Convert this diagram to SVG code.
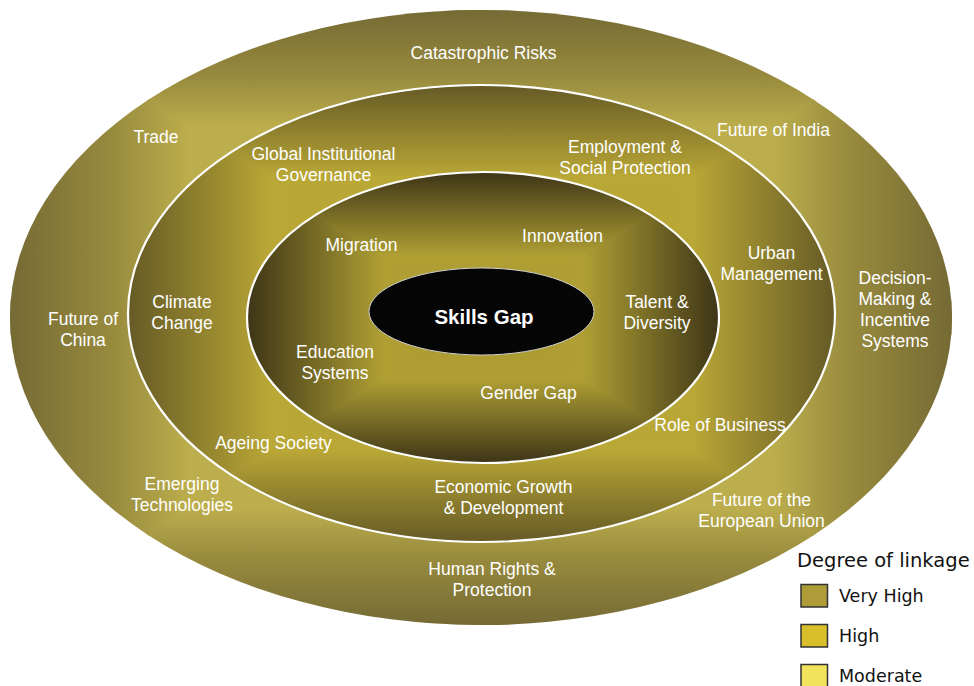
<svg xmlns="http://www.w3.org/2000/svg" width="974" height="686" viewBox="0 0 974 686">
  <defs>
    <style>
      .lbl { font-family: "Liberation Sans", Arial, sans-serif; font-size: 17.5px; fill: #ffffff; text-anchor: middle; }
      .core { font-family: "Liberation Sans", Arial, sans-serif; font-size: 20.5px; font-weight: bold; fill: #ffffff; text-anchor: middle; }
      .legend-title { font-family: "DejaVu Sans", Verdana, sans-serif; font-size: 19.5px; fill: #111111; }
      .legend-text { font-family: "DejaVu Sans", Verdana, sans-serif; font-size: 17.5px; fill: #111111; }
      .swatch { stroke: #333333; stroke-width: 1.5; }
      .ring-edge { fill: none; stroke: #ffffff; stroke-width: 2.2; }
      .tri { stroke-width: 1.6; stroke-linejoin: round; }
    </style>

    <!-- Rectangular (box) gradients: each ring is filled by four triangles,
         each carrying a linear ramp from the centre (offset 0) to its box edge (offset 1).
         Triangles are stroked with their own ramp so the diagonal joins stay seamless. -->
    <linearGradient id="outerStops">
      <stop offset="0" stop-color="#bcae4c"/>
      <stop offset="0.62" stop-color="#bcae4c"/>
      <stop offset="0.78" stop-color="#988b3e"/>
      <stop offset="1" stop-color="#756a34"/>
    </linearGradient>
    <linearGradient id="outerT" href="#outerStops" x1="0" y1="1" x2="0" y2="0"/>
    <linearGradient id="outerB" href="#outerStops" x1="0" y1="0" x2="0" y2="1"/>
    <linearGradient id="outerL" href="#outerStops" x1="1" y1="0" x2="0" y2="0"/>
    <linearGradient id="outerR" href="#outerStops" x1="0" y1="0" x2="1" y2="0"/>

    <linearGradient id="midStops">
      <stop offset="0" stop-color="#b5a434"/>
      <stop offset="0.6" stop-color="#b9a736"/>
      <stop offset="1" stop-color="#655a26"/>
    </linearGradient>
    <linearGradient id="midT" href="#midStops" x1="0" y1="1" x2="0" y2="0"/>
    <linearGradient id="midB" href="#midStops" x1="0" y1="0" x2="0" y2="1"/>
    <linearGradient id="midL" href="#midStops" x1="1" y1="0" x2="0" y2="0"/>
    <linearGradient id="midR" href="#midStops" x1="0" y1="0" x2="1" y2="0"/>

    <linearGradient id="innerStops">
      <stop offset="0" stop-color="#a8972f"/>
      <stop offset="0.42" stop-color="#b0a034"/>
      <stop offset="1" stop-color="#3d3517"/>
    </linearGradient>
    <linearGradient id="innerT" href="#innerStops" x1="0" y1="1" x2="0" y2="0"/>
    <linearGradient id="innerB" href="#innerStops" x1="0" y1="0" x2="0" y2="1"/>
    <linearGradient id="innerL" href="#innerStops" x1="1" y1="0" x2="0" y2="0"/>
    <linearGradient id="innerR" href="#innerStops" x1="0" y1="0" x2="1" y2="0"/>

    <clipPath id="clipOuter"><ellipse cx="481" cy="317.5" rx="471" ry="307.5"/></clipPath>
    <clipPath id="clipMid"><ellipse cx="481.5" cy="313.5" rx="353.5" ry="228.5"/></clipPath>
    <clipPath id="clipInner"><ellipse cx="483" cy="317.5" rx="236" ry="145.5"/></clipPath>
  </defs>

  <rect width="974" height="686" fill="#ffffff"/>

  <!-- Outer ring: moderate linkage -->
  <g id="ring-outer">
    <g clip-path="url(#clipOuter)">
      <polygon class="tri" points="481,317.5 10,10 952,10" fill="url(#outerT)" stroke="url(#outerT)"/>
      <polygon class="tri" points="481,317.5 10,625 952,625" fill="url(#outerB)" stroke="url(#outerB)"/>
      <polygon class="tri" points="481,317.5 10,10 10,625" fill="url(#outerL)" stroke="url(#outerL)"/>
      <polygon class="tri" points="481,317.5 952,10 952,625" fill="url(#outerR)" stroke="url(#outerR)"/>
    </g>
    <text class="lbl" x="483.5" y="59">Catastrophic Risks</text>
    <text class="lbl" x="156" y="143">Trade</text>
    <text class="lbl" x="773.5" y="136">Future of India</text>
    <text class="lbl" x="83" y="325">Future of<tspan x="83" dy="21">China</tspan></text>
    <text class="lbl" x="895" y="284">Decision-<tspan x="895" dy="21">Making &amp;</tspan><tspan x="895" dy="21">Incentive</tspan><tspan x="895" dy="21">Systems</tspan></text>
    <text class="lbl" x="182" y="490">Emerging<tspan x="182" dy="21">Technologies</tspan></text>
    <text class="lbl" x="761.5" y="506">Future of the<tspan x="761.5" dy="21">European Union</tspan></text>
    <text class="lbl" x="492" y="575">Human Rights &amp;<tspan x="492" dy="21">Protection</tspan></text>
  </g>

  <!-- Middle ring: high linkage -->
  <g id="ring-middle">
    <g clip-path="url(#clipMid)">
      <polygon class="tri" points="481.5,313.5 128,85 835,85" fill="url(#midT)" stroke="url(#midT)"/>
      <polygon class="tri" points="481.5,313.5 128,542 835,542" fill="url(#midB)" stroke="url(#midB)"/>
      <polygon class="tri" points="481.5,313.5 128,85 128,542" fill="url(#midL)" stroke="url(#midL)"/>
      <polygon class="tri" points="481.5,313.5 835,85 835,542" fill="url(#midR)" stroke="url(#midR)"/>
    </g>
    <ellipse class="ring-edge" cx="481.5" cy="313.5" rx="353.5" ry="228.5"/>
    <text class="lbl" x="323.5" y="160">Global Institutional<tspan x="323.5" dy="21">Governance</tspan></text>
    <text class="lbl" x="625" y="153">Employment &amp;<tspan x="625" dy="21">Social Protection</tspan></text>
    <text class="lbl" x="182" y="308">Climate<tspan x="182" dy="21">Change</tspan></text>
    <text class="lbl" x="771.5" y="259">Urban<tspan x="771.5" dy="21">Management</tspan></text>
    <text class="lbl" x="273.5" y="449">Ageing Society</text>
    <text class="lbl" x="720" y="431">Role of Business</text>
    <text class="lbl" x="503.5" y="493">Economic Growth<tspan x="503.5" dy="21">&amp; Development</tspan></text>
  </g>

  <!-- Inner ring: very high linkage -->
  <g id="ring-inner">
    <g clip-path="url(#clipInner)">
      <polygon class="tri" points="483,317.5 247,172 719,172" fill="url(#innerT)" stroke="url(#innerT)"/>
      <polygon class="tri" points="483,317.5 247,463 719,463" fill="url(#innerB)" stroke="url(#innerB)"/>
      <polygon class="tri" points="483,317.5 247,172 247,463" fill="url(#innerL)" stroke="url(#innerL)"/>
      <polygon class="tri" points="483,317.5 719,172 719,463" fill="url(#innerR)" stroke="url(#innerR)"/>
    </g>
    <ellipse class="ring-edge" cx="483" cy="317.5" rx="236" ry="145.5"/>
    <text class="lbl" x="361.5" y="251">Migration</text>
    <text class="lbl" x="562.5" y="242">Innovation</text>
    <text class="lbl" x="657" y="308">Talent &amp;<tspan x="657" dy="21">Diversity</tspan></text>
    <text class="lbl" x="335" y="358">Education<tspan x="335" dy="21">Systems</tspan></text>
    <text class="lbl" x="528.5" y="399">Gender Gap</text>
  </g>

  <!-- Core topic -->
  <g id="skills-gap">
    <ellipse cx="481.5" cy="311.5" rx="112.5" ry="43.5" fill="#050505" stroke="#cfcfcf" stroke-width="1"/>
    <text class="core" x="484" y="324">Skills Gap</text>
  </g>

  <g id="connectors"/>

  <!-- Legend -->
  <g id="legend">
    <text class="legend-title" x="797" y="567">Degree of linkage</text>
    <rect class="swatch" x="801" y="584.5" width="26.5" height="22.5" fill="#ad9c38"/>
    <text class="legend-text" x="839" y="602">Very High</text>
    <rect class="swatch" x="801" y="624.5" width="26.5" height="22.5" fill="#d8bf2b"/>
    <text class="legend-text" x="839" y="642">High</text>
    <rect class="swatch" x="801" y="664.5" width="26.5" height="22.5" fill="#f2e35d"/>
    <text class="legend-text" x="839" y="682">Moderate</text>
  </g>
</svg>
